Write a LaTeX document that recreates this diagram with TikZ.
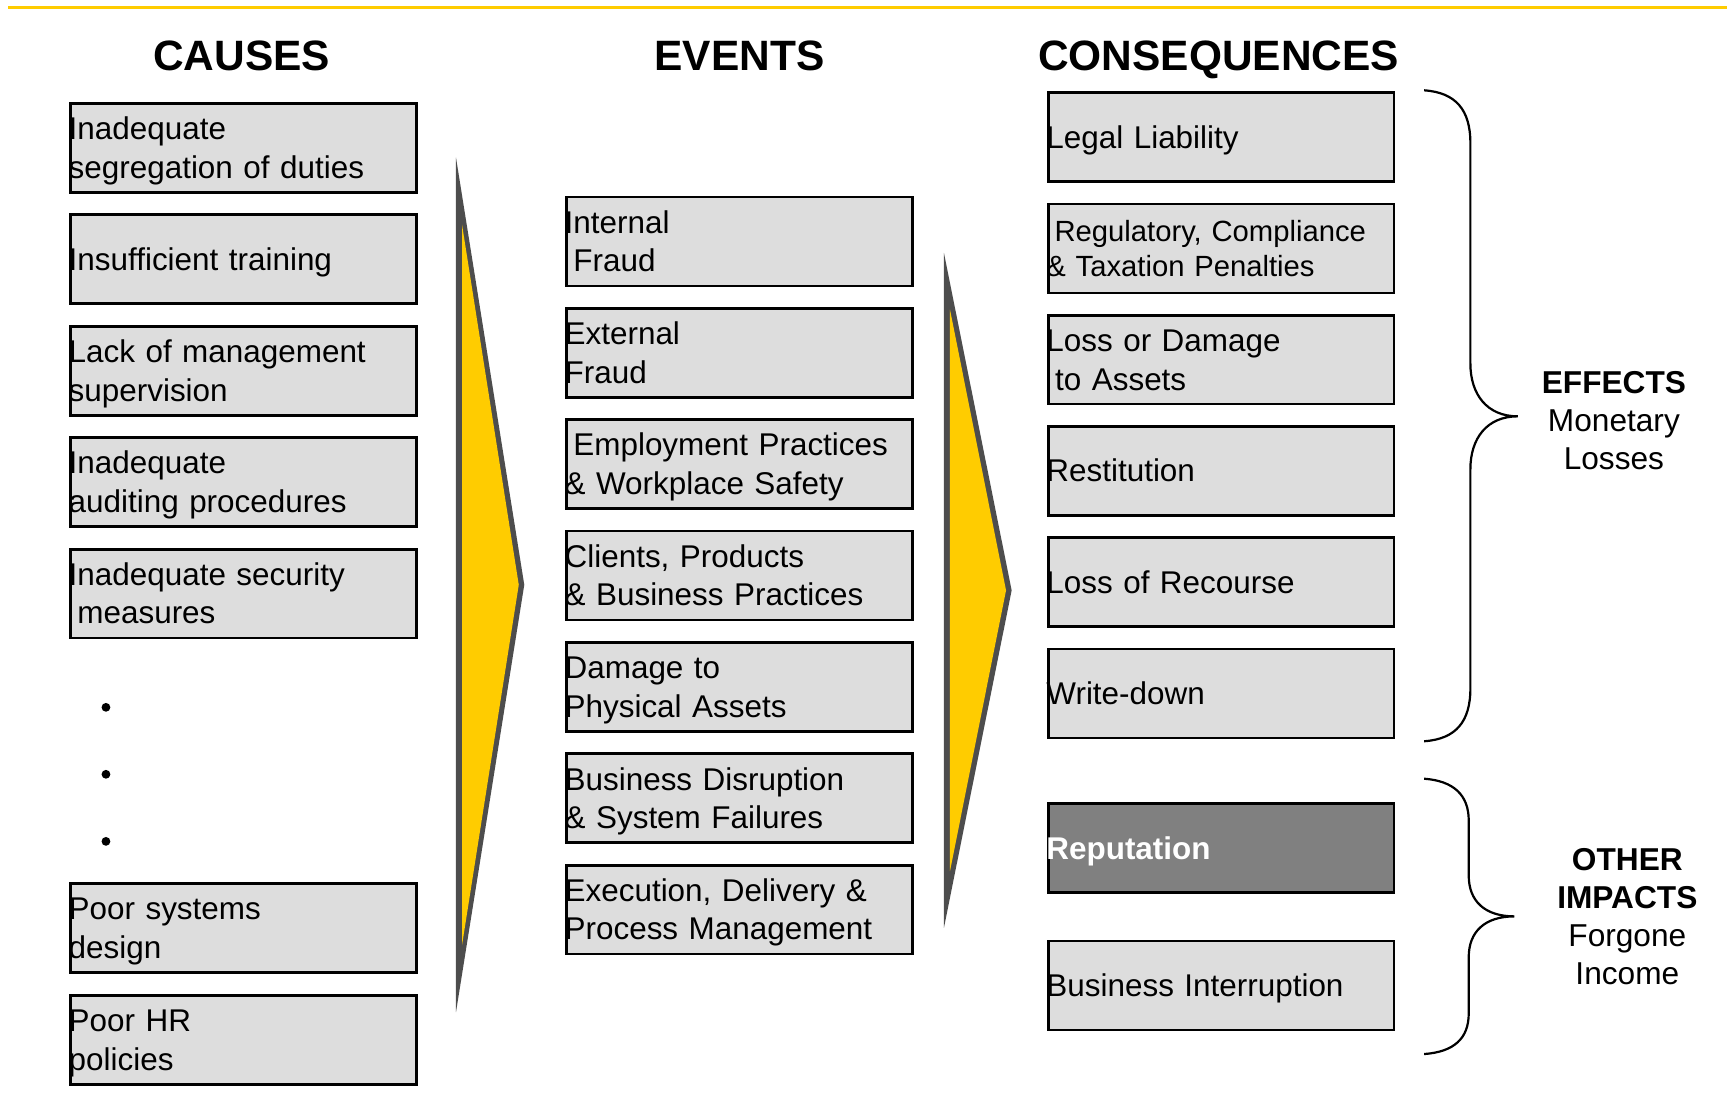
\documentclass[tikz,border=0pt]{standalone}
\usepackage{fontspec}
\setmainfont{Liberation Sans}
\definecolor{boxgray}{HTML}{DDDDDD}
\definecolor{darkbox}{HTML}{808080}
\definecolor{arrgray}{HTML}{4D4D4D}
\definecolor{gold}{HTML}{FFCC00}
\newcommand{\ls}{\hspace*{-0.9pt}\rule[-4.1pt]{0pt}{19.25pt}}
\newcommand{\lss}{\hspace*{-0.9pt}\rule[-3.7pt]{0pt}{17.6pt}}
\newcommand{\cls}{\rule[-4pt]{0pt}{18.9pt}}
\newcommand{\lead}{\hspace*{.278em}}
\begin{document}
\begin{tikzpicture}[x=0.55pt,y=-0.55pt,
  box/.style={draw=black, fill=boxgray, line width=1.35pt, anchor=north west, outer sep=0pt,
    inner xsep=0pt, inner ysep=0pt, text width=172.7pt, minimum height=44.4pt, align=left,
    font=\fontsize{15.7}{19.25}\selectfont},
  smallbox/.style={box, font=\fontsize{14.6}{17.6}\selectfont},
  darkbx/.style={box, fill=darkbox, text=white, font=\fontsize{15.7}{19.25}\selectfont\bfseries},
  title/.style={anchor=base, inner sep=0pt, font=\fontsize{21.2}{26}\selectfont\bfseries},
  sidelabel/.style={align=center, inner sep=0pt, font=\fontsize{15.8}{19}\selectfont},
  dot/.style={circle, fill=black, inner sep=0pt, minimum size=4.4pt},
  brace/.style={draw=black, line width=1.1pt}]
\useasboundingbox (0,0) rectangle (1568,995);

% top rule
\draw[gold, line width=1.4pt] (7.6,6.6) -- (1568,6.6);

% titles
\node[title] (tcause) at (219.5,64) {CAUSES};
\node[title] (tevent) at (671.5,64) {EVENTS};
\node[title] (tcons) at (1106.5,64) {CONSEQUENCES};

% causes
\node[box] (c1) at (64,93.8) {\ls Inadequate\\\ls segregation of duties};
\node[box] (c2) at (64,195) {\ls Insufficient training};
\node[box] (c3) at (64,296.2) {\ls Lack of management\\\ls supervision};
\node[box] (c4) at (64,397.4) {\ls Inadequate\\\ls auditing procedures};
\node[box] (c5) at (64,498.6) {\ls Inadequate security\\\ls\lead measures};
\node[dot] (d1) at (96.2,642.2) {};
\node[dot] (d2) at (96.2,703) {};
\node[dot] (d3) at (96.2,763.9) {};
\node[box] (c6) at (64,802.3) {\ls Poor systems\\\ls design};
\node[box] (c7) at (64,904) {\ls Poor HR\\\ls policies};

% arrows
\fill[arrgray] (414,143) -- (476,531) -- (414,919) -- cycle;
\fill[gold] (419.5,204) -- (471,531) -- (419.5,858) -- cycle;
\fill[arrgray] (857,229.5) -- (918.5,536) -- (857,842.5) -- cycle;
\fill[gold] (862.5,281) -- (913.4,536) -- (862.5,791) -- cycle;

% events
\node[box] (e1) at (514.3,178.9) {\ls Internal\\\ls\lead Fraud};
\node[box] (e2) at (514.3,280) {\ls External\\\ls Fraud};
\node[box] (e3) at (514.3,381.1) {\ls\lead Employment Practices\\\ls \& Workplace Safety};
\node[box] (e4) at (514.3,482.2) {\ls Clients, Products\\\ls \& Business Practices};
\node[box] (e5) at (514.3,583.3) {\ls Damage to\\\ls Physical Assets};
\node[box] (e6) at (514.3,684.4) {\ls Business Disruption\\\ls \& System Failures};
\node[box] (e7) at (514.3,785.5) {\ls Execution, Delivery \&\\\ls Process Management};

% consequences
\node[box] (k1) at (951.7,84.2) {\ls Legal Liability};
\node[smallbox] (k2) at (951.7,185.2) {\lss\lead Regulatory, Compliance\\\lss \& Taxation Penalties};
\node[box] (k3) at (951.7,286.2) {\ls Loss or Damage\\\ls\lead to Assets};
\node[box] (k4) at (951.7,387.2) {\ls Restitution};
\node[box] (k5) at (951.7,488.2) {\ls Loss of Recourse};
\node[box] (k6) at (951.7,589.2) {\ls Write-down};
\node[darkbx] (k7) at (951.7,729.7) {\ls Reputation};
\node[box] (k8) at (951.7,854.4) {\ls Business Interruption};

% braces
\draw[brace] (1293,82) .. controls (1322,84) and (1335,100) .. (1335,130)
  -- (1335,330) .. controls (1335,358) and (1350,378) .. (1378,378)
  .. controls (1350,378) and (1335,398) .. (1335,426)
  -- (1335,625) .. controls (1335,655) and (1322,671) .. (1293,673);
\draw[brace] (1293,707) .. controls (1320,709) and (1333.5,722) .. (1333.5,745)
  -- (1333.5,795) .. controls (1333.5,818) and (1348,832) .. (1375,832)
  .. controls (1348,832) and (1333.5,846) .. (1333.5,869)
  -- (1333.5,920) .. controls (1333.5,943) and (1320,955) .. (1293,957);

% side labels
\node[sidelabel] (eff) at (1465.3,382) {\cls\textbf{EFFECTS}\\\cls Monetary\\\cls Losses};
\node[sidelabel] (oth) at (1477.5,832) {\cls\textbf{OTHER}\\\cls\textbf{IMPACTS}\\\cls Forgone\\\cls Income};
\end{tikzpicture}
\end{document}
